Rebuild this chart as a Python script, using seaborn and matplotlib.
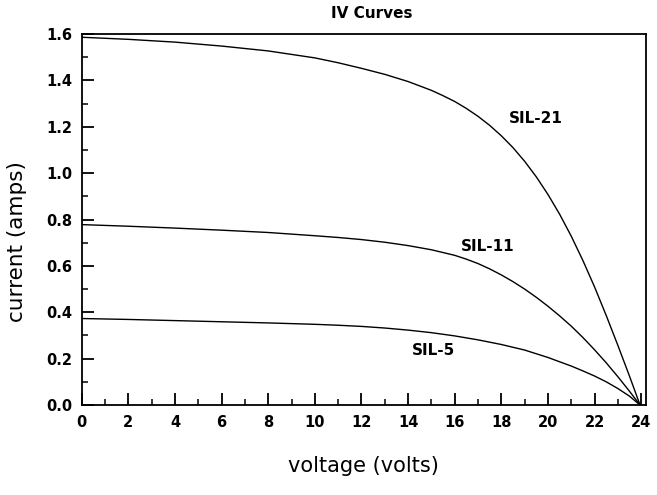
import numpy as np
import pandas as pd
import seaborn as sns
import matplotlib.pyplot as plt
from matplotlib.ticker import MultipleLocator

# values (volts, amps)
sil21_v = [0, 2, 4, 6, 8, 10, 11, 12, 13, 14, 15, 15.5, 16, 16.5, 17, 17.5, 18, 18.5,
           19, 19.5, 20, 20.5, 21, 21.5, 22, 22.5, 23, 23.5, 23.95]
sil21_i = [1.586, 1.577, 1.565, 1.548, 1.527, 1.497, 1.476, 1.452, 1.426, 1.395, 1.357, 1.334,
           1.309, 1.279, 1.245, 1.206, 1.161, 1.11, 1.051, 0.984, 0.908, 0.823, 0.728, 0.623,
           0.509, 0.386, 0.257, 0.124, 0.0]

sil11_v = [0, 2, 4, 6, 8, 10, 11, 12, 13, 14, 15, 16, 16.5, 17, 17.5, 18, 18.5, 19, 19.5,
           20, 20.5, 21, 21.5, 22, 22.5, 23, 23.5, 23.95]
sil11_i = [0.778, 0.771, 0.763, 0.754, 0.744, 0.73, 0.7225, 0.7135, 0.702, 0.6875, 0.6695,
           0.6455, 0.629, 0.61, 0.587, 0.561, 0.532, 0.50, 0.4645, 0.426, 0.3845, 0.34, 0.291,
           0.238, 0.182, 0.122, 0.059, 0.0]

sil5_v = [0, 2, 4, 6, 8, 10, 11, 12, 13, 14, 15, 16, 17, 18, 19, 20, 21, 21.5, 22, 22.5,
          23, 23.5, 23.95]
sil5_i = [0.373, 0.369, 0.364, 0.359, 0.354, 0.348, 0.344, 0.339, 0.332, 0.323, 0.312, 0.298,
          0.281, 0.261, 0.237, 0.205, 0.168, 0.147, 0.125, 0.10, 0.071, 0.038, 0.0]

curve_names = ["SIL-21", "SIL-11", "SIL-5"]
label_v = [19.5, 17.4, 15.1]
label_i = [1.234, 0.683, 0.233]

sns.set_theme(style="ticks")
plt.rcParams['font.family'] = ['DejaVu Sans']

fig = plt.figure(figsize=(6.57, 4.95), dpi=100)
ax = fig.add_axes([0.1244, 0.1818, 0.859, 0.7495])

for v, i in [(sil21_v, sil21_i), (sil11_v, sil11_i), (sil5_v, sil5_i)]:
    df = pd.DataFrame({'voltage': v, 'current': i})
    sns.lineplot(data=df, x='voltage', y='current', color='black',
                 linewidth=1.0, estimator=None, sort=False, ax=ax)

for name, lv, li in zip(curve_names, label_v, label_i):
    ax.text(lv, li, name, ha='center', va='center', fontsize=11,
            fontweight='bold', color='black')

ax.set_xlim(0, 24.21)
ax.set_ylim(0, 1.6)
ax.set_xticks(np.arange(0, 25, 2))
ax.set_xticklabels([str(t) for t in range(0, 25, 2)])
ax.xaxis.set_minor_locator(MultipleLocator(1))
ax.set_yticks(np.arange(0, 1.61, 0.2))
ax.set_yticklabels([f"{t:.1f}" for t in np.arange(0, 1.61, 0.2)])
ax.yaxis.set_minor_locator(MultipleLocator(0.1))

ax.tick_params(which='major', direction='in', length=8.5, width=1.3,
               labelsize=10.5, pad=7, colors='black')
ax.tick_params(which='minor', direction='in', length=4.5, width=1.1, colors='black')
for lab in ax.get_xticklabels() + ax.get_yticklabels():
    lab.set_fontweight('bold')

for side in ['left', 'right', 'top', 'bottom']:
    ax.spines[side].set_visible(True)
    ax.spines[side].set_linewidth(1.3)
    ax.spines[side].set_color('black')

ax.set_xlabel('voltage (volts)', fontsize=15, color='black')
ax.set_ylabel('current (amps)', fontsize=15.5, color='black')
ax.xaxis.set_label_coords(0.5, -0.137)
ax.yaxis.set_label_coords(-0.097, 0.44)

fig.text(0.5657, 0.972, 'IV Curves', ha='center', va='center',
         fontsize=11, fontweight='bold', color='black')

fig.savefig('out.png', dpi=100)
